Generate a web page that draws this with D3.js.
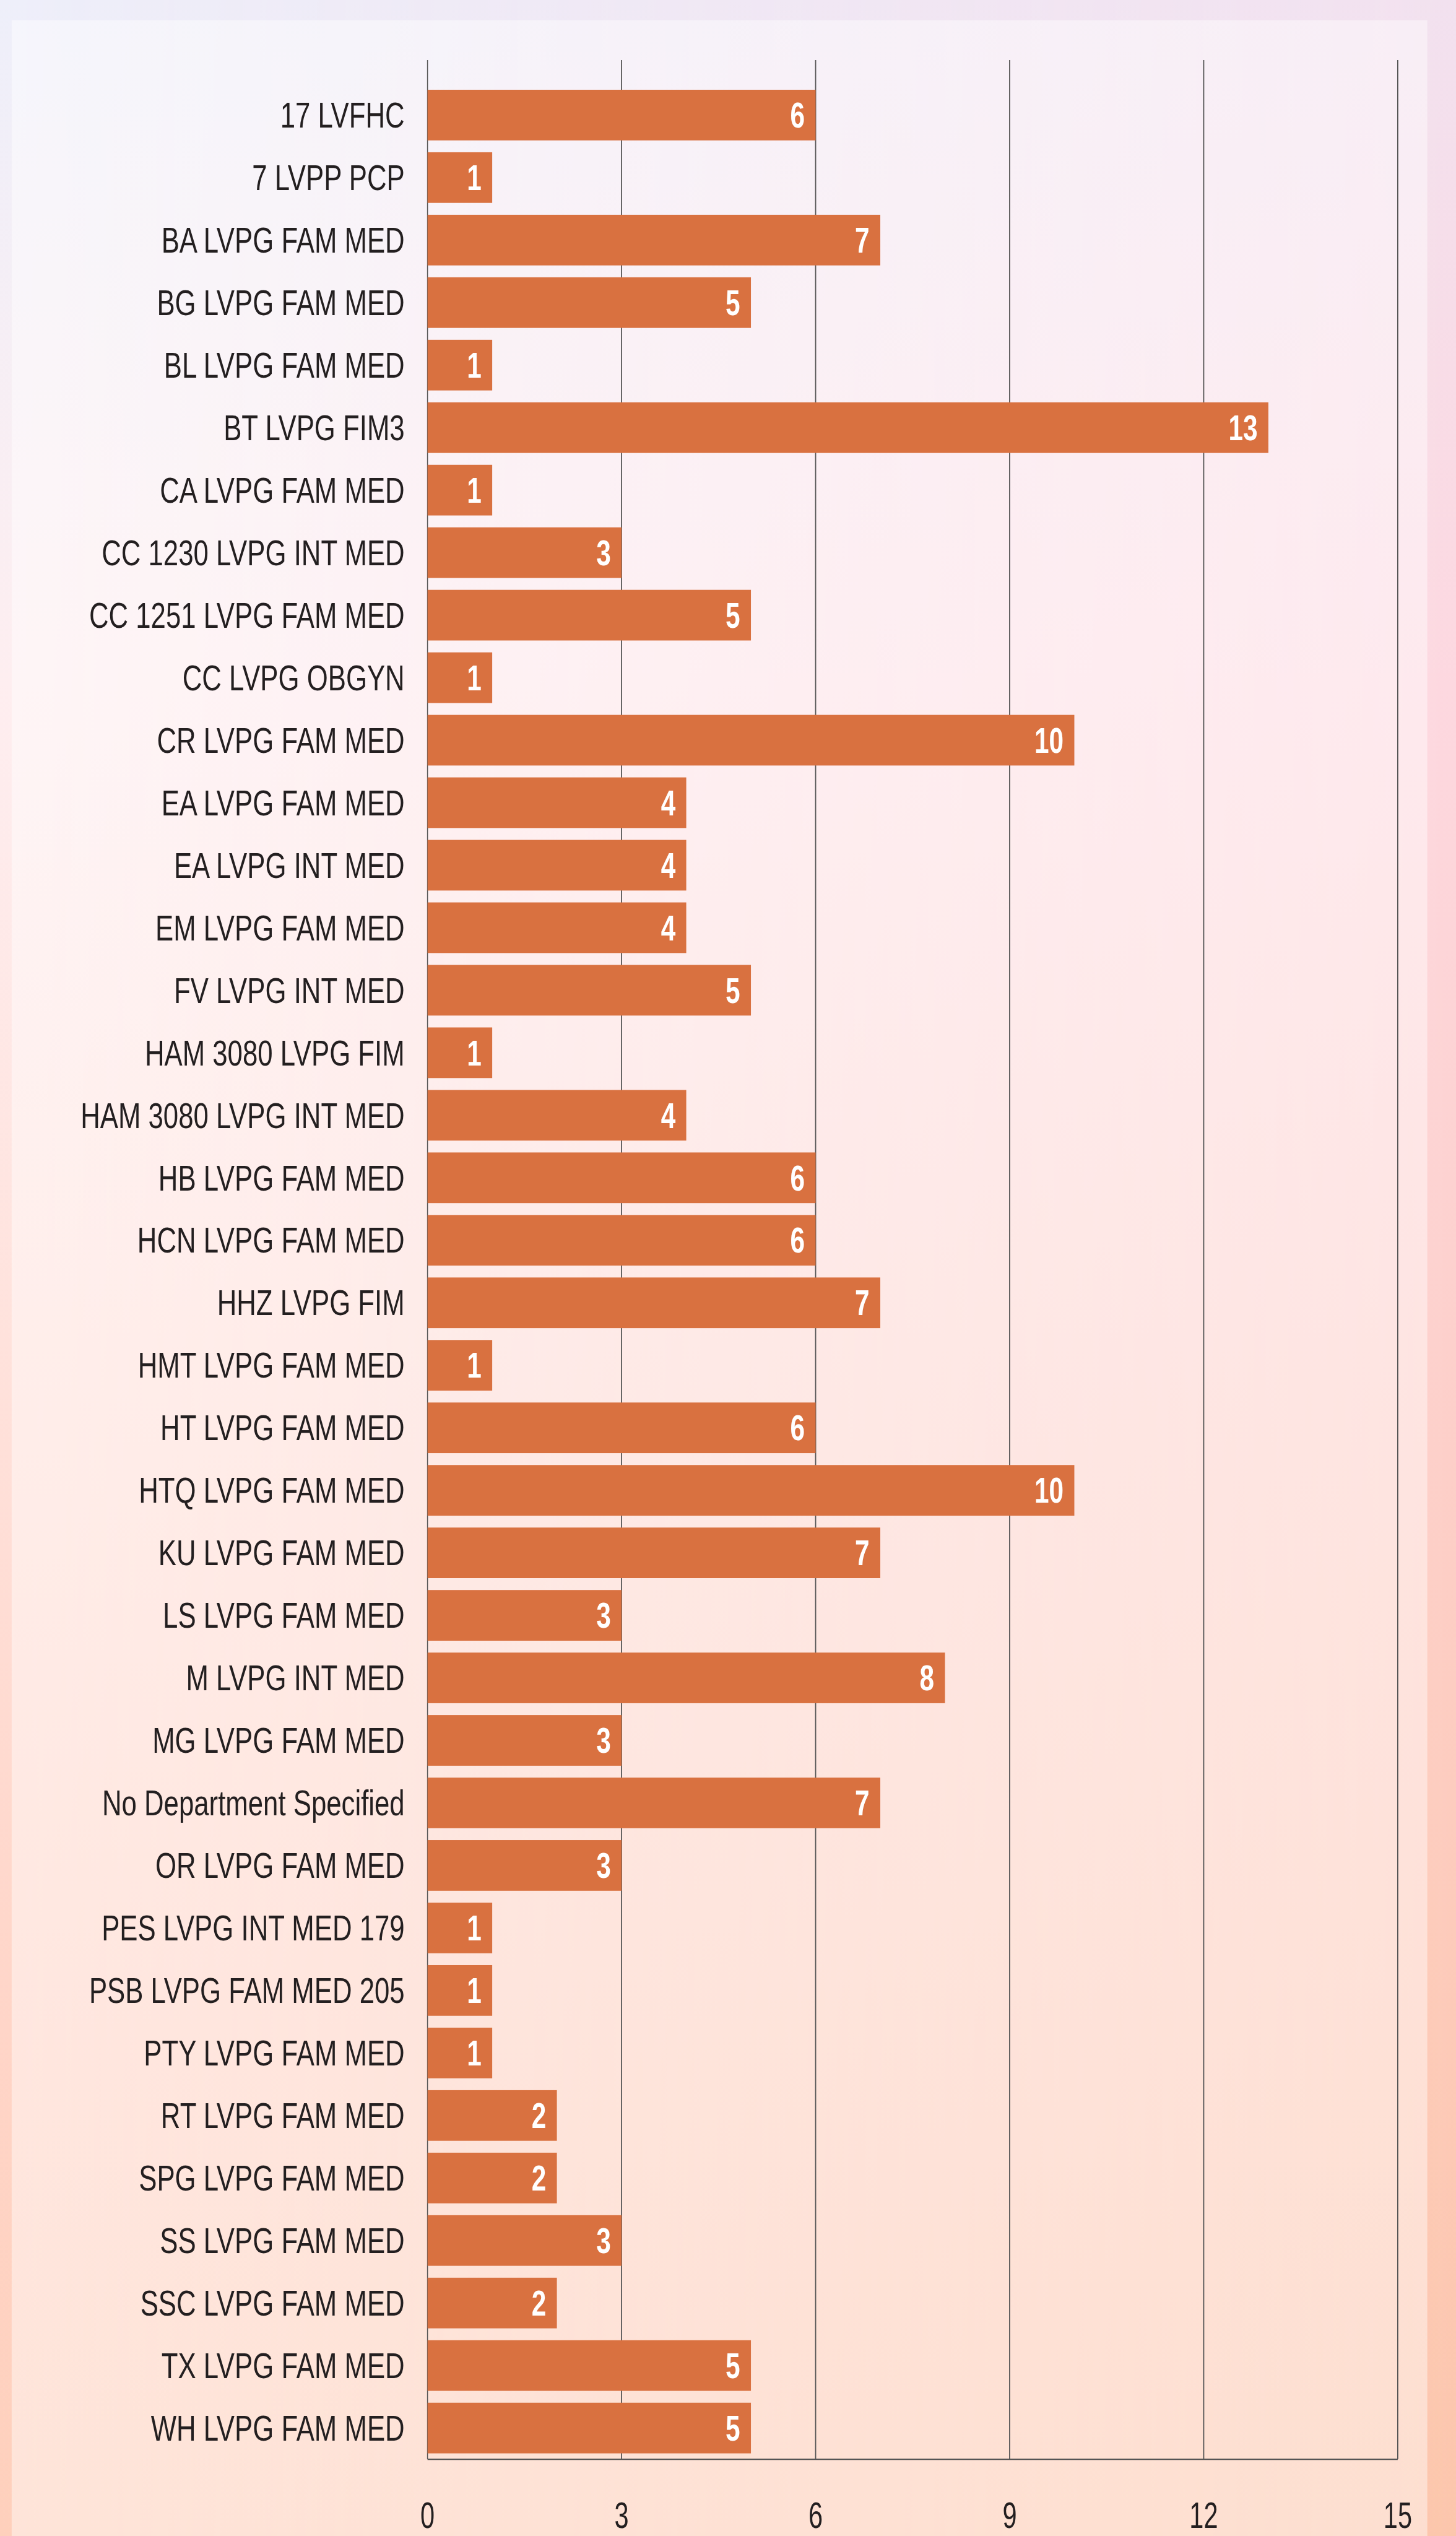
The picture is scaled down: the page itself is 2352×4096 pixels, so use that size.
<!DOCTYPE html>
<html>
<head>
<meta charset="utf-8">
<script src="https://cdn.jsdelivr.net/npm/d3@7"></script>
<style>
html,body{margin:0;padding:0;overflow:hidden;background:#fde6de;}
svg{display:block;}
text{font-family:"Liberation Sans", Arial, sans-serif;}
</style>
</head>
<body>
<svg id="chart"></svg>
<script>
const categories = ["17 LVFHC","7 LVPP PCP","BA LVPG FAM MED","BG LVPG FAM MED","BL LVPG FAM MED","BT LVPG FIM3","CA LVPG FAM MED","CC 1230 LVPG INT MED","CC 1251 LVPG FAM MED","CC LVPG OBGYN","CR LVPG FAM MED","EA LVPG FAM MED","EA LVPG INT MED","EM LVPG FAM MED","FV LVPG INT MED","HAM 3080 LVPG FIM","HAM 3080 LVPG INT MED","HB LVPG FAM MED","HCN LVPG FAM MED","HHZ LVPG FIM","HMT LVPG FAM MED","HT LVPG FAM MED","HTQ LVPG FAM MED","KU LVPG FAM MED","LS LVPG FAM MED","M LVPG INT MED","MG LVPG FAM MED","No Department Specified","OR LVPG FAM MED","PES LVPG INT MED 179","PSB LVPG FAM MED 205","PTY LVPG FAM MED","RT LVPG FAM MED","SPG LVPG FAM MED","SS LVPG FAM MED","SSC LVPG FAM MED","TX LVPG FAM MED","WH LVPG FAM MED"];
const values = [6,1,7,5,1,13,1,3,5,1,10,4,4,4,5,1,4,6,6,7,1,6,10,7,3,8,3,7,3,1,1,1,2,2,3,2,5,5];
const xTicks = [0,3,6,9,12,15];

const W = 2352, H = 4096;
const s = W / 3249;
const svg = d3.select("#chart").attr("width", W).attr("height", H);
const defs = svg.append("defs");

// background gradients
const gl = defs.append("linearGradient").attr("id","bgL").attr("x1",0).attr("y1",0).attr("x2",0).attr("y2",1);
[[0,"#eeeffa"],[0.27,"#feeef0"],[0.53,"#ffe2dc"],[0.8,"#ffd5c8"],[1,"#fed0bc"]].forEach(d=>gl.append("stop").attr("offset",d[0]).attr("stop-color",d[1]));
const gr = defs.append("linearGradient").attr("id","bgR").attr("x1",0).attr("y1",0).attr("x2",0).attr("y2",1);
[[0,"#f2e1ef"],[0.27,"#fdd8e0"],[0.53,"#fdd0cc"],[0.8,"#fdcab8"],[1,"#fcc6ac"]].forEach(d=>gr.append("stop").attr("offset",d[0]).attr("stop-color",d[1]));
const gm = defs.append("linearGradient").attr("id","hMask").attr("x1",0).attr("y1",0).attr("x2",1).attr("y2",0);
gm.append("stop").attr("offset",0).attr("stop-color","#fff").attr("stop-opacity",0);
gm.append("stop").attr("offset",1).attr("stop-color","#fff").attr("stop-opacity",1);
defs.append("mask").attr("id","mk").append("rect").attr("width",W).attr("height",H).attr("fill","url(#hMask)");

svg.append("rect").attr("width",W).attr("height",H).attr("fill","url(#bgL)");
svg.append("rect").attr("width",W).attr("height",H).attr("fill","url(#bgR)").attr("mask","url(#mk)");
// inner panel
svg.append("rect").attr("x",26*s).attr("y",45*s).attr("width",(3185-26)*s).attr("height",H)
  .attr("fill","#ffffff").attr("fill-opacity",0.43);

const x0 = 954*s, x1 = 3119*s;
const gridTop = 134*s, plotBottom = 5487*s;
const x = d3.scaleLinear().domain([0,15]).range([x0,x1]);
const y = d3.scaleBand().domain(categories).range([187*s, plotBottom]).paddingInner(0.19).paddingOuter(0.095);

const catFont = 78*s, tickFont = 82*s;
const textColor = "#231f20";

// condensed text: draw at origin and position via transform with horizontal scale
function place(sel, fx, fy, k){
  sel.attr("x",0).attr("y",0)
     .attr("transform",(d,i)=>`translate(${fx(d,i)},${fy(d,i)}) scale(${k},1)`);
}

// gridlines
svg.append("g").selectAll("line").data(xTicks).join("line")
  .attr("x1",d=>x(d)).attr("x2",d=>x(d)).attr("y1",gridTop).attr("y2",plotBottom)
  .attr("stroke","#555555").attr("stroke-width",d=>d===0?1.5:1.8);

// bars
svg.append("g").selectAll("rect").data(values).join("rect")
  .attr("x",x(0)).attr("y",(d,i)=>y(categories[i]))
  .attr("width",d=>x(d)-x(0)).attr("height",y.bandwidth())
  .attr("fill","#d97140");

// bottom axis line
svg.append("line").attr("x1",x0).attr("x2",x1).attr("y1",plotBottom).attr("y2",plotBottom)
  .attr("stroke","#555555").attr("stroke-width",2.4);

// category labels
const cl = svg.append("g").selectAll("text").data(categories).join("text")
  .attr("text-anchor","end").attr("font-size",catFont).attr("fill",textColor)
  .text(d=>d);
place(cl, ()=>903*s, d=>y(d)+y.bandwidth()/2+0.358*catFont, 0.775);

// value labels
const vl = svg.append("g").selectAll("text").data(values).join("text")
  .attr("text-anchor","end").attr("font-size",catFont).attr("font-weight","bold").attr("fill","#ffffff")
  .text(d=>d);
place(vl, d=>x(d)-24*s, (d,i)=>y(categories[i])+y.bandwidth()/2+0.358*catFont, 0.75);

// tick labels
const tl = svg.append("g").selectAll("text").data(xTicks).join("text")
  .attr("text-anchor","middle").attr("font-size",tickFont).attr("fill",textColor)
  .text(d=>d);
place(tl, d=>x(d), ()=>4083, 0.70);
</script>
</body>
</html>
